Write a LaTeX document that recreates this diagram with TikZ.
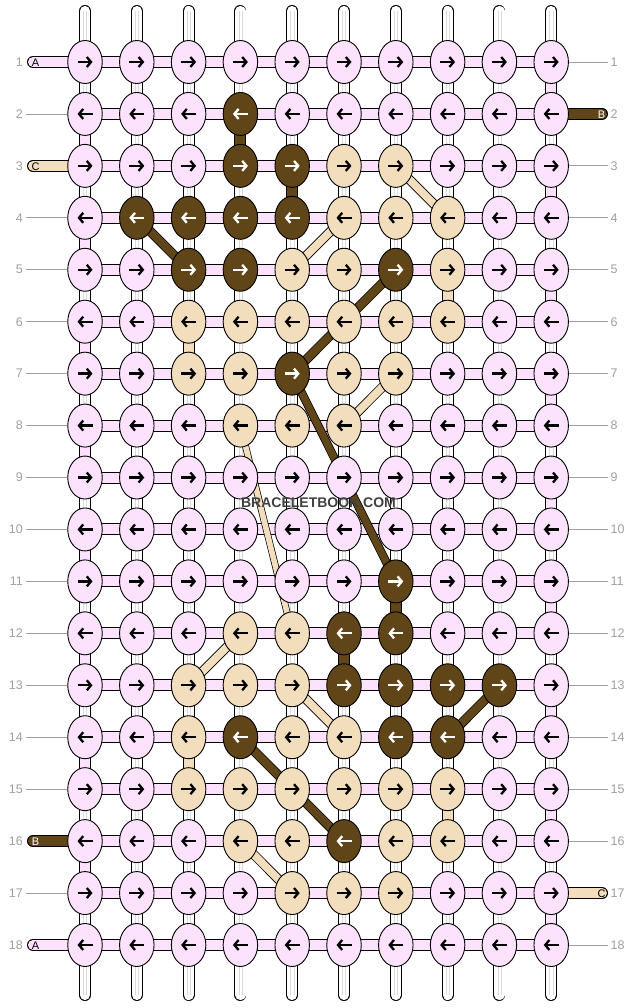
\documentclass[tikz,border=0pt]{standalone}
\usepackage{fontspec}
\setmainfont{Liberation Sans}
\usetikzlibrary{shapes.geometric,arrows.meta}
\definecolor{cA}{RGB}{252,226,252}
\definecolor{cB}{RGB}{96,69,24}
\definecolor{cC}{RGB}{242,221,189}
\colorlet{arrA}{black}
\colorlet{arrB}{white}
\colorlet{arrC}{black}
\definecolor{lbl}{RGB}{160,160,160}
\definecolor{wm}{RGB}{64,64,64}
\pgfdeclarelayer{bg}
\pgfdeclarelayer{warp}
\pgfdeclarelayer{bands}
\pgfdeclarelayer{strings}
\pgfdeclarelayer{top}
\pgfsetlayers{bg,warp,bands,strings,main,top}
\begin{document}
\begin{tikzpicture}[x=1pt,y=-1pt,
  knot/.style={ellipse, draw=black, line width=0.9pt, minimum width=34.5pt, minimum height=43pt, inner sep=0pt},
  numlbl/.style={text=lbl, font=\fontsize{12.5}{13}\selectfont, inner sep=2.5pt},
  endlbl/.style={font=\fontsize{11}{11}\selectfont, inner sep=0pt},
  arw/.style={line width=2.3pt, -{Straight Barb[length=4.2pt,width=10pt]}}]
\useasboundingbox (0,0) rectangle (636,1008);
% knots
\foreach \r/\row in {
1/{A,A,A,A,A,A,A,A,A,A},
2/{A,A,A,B,A,A,A,A,A,A},
3/{A,A,A,B,B,C,C,A,A,A},
4/{A,B,B,B,B,C,C,C,A,A},
5/{A,A,B,B,C,C,B,C,A,A},
6/{A,A,C,C,C,C,C,C,A,A},
7/{A,A,C,C,B,C,C,A,A,A},
8/{A,A,A,C,C,C,A,A,A,A},
9/{A,A,A,A,A,A,A,A,A,A},
10/{A,A,A,A,A,A,A,A,A,A},
11/{A,A,A,A,A,A,B,A,A,A},
12/{A,A,A,C,C,B,B,A,A,A},
13/{A,A,C,C,C,B,B,B,B,A},
14/{A,A,C,B,C,C,B,B,A,A},
15/{A,A,C,C,C,C,C,C,A,A},
16/{A,A,A,C,C,B,C,C,A,A},
17/{A,A,A,A,C,C,C,A,A,A},
18/{A,A,A,A,A,A,A,A,A,A}}{
  \foreach \k [count=\c] in \row {
    \node[knot, fill=c\k] (k-\r-\c) at ({85+(\c-1)*51.8},{62+(\r-1)*51.94}) {};
    \ifodd\r\relax \def\sa{-7.5}\def\sb{7.5}\else\def\sa{7.5}\def\sb{-7.5}\fi
    \draw[arw, draw=arr\k] ([xshift=\sa pt]k-\r-\c.center) -- ([xshift=\sb pt]k-\r-\c.center);
  }
}
\begin{pgfonlayer}{bg}
\fill[white] (0,0) rectangle (636,1008);
\end{pgfonlayer}
% warp strings
\begin{pgfonlayer}{warp}
\foreach \c in {1,...,10}{
  \coordinate (wt-\c) at ({85+(\c-1)*51.8},11);
  \coordinate (wb-\c) at ({85+(\c-1)*51.8},995);
  \draw[black, line width=12pt, line cap=round] (wt-\c) -- (wb-\c);
  \draw[white, line width=10.2pt, line cap=round] (wt-\c) -- (wb-\c);
  \draw[black!14, line width=0.5pt] ([xshift=-1.6pt]wt-\c) -- ([xshift=-1.6pt]wb-\c);
  \draw[black!14, line width=0.5pt] ([xshift=1.6pt]wt-\c) -- ([xshift=1.6pt]wb-\c);
}
\end{pgfonlayer}
% horizontal bands, end tubes, labels
\begin{pgfonlayer}{bands}
\foreach \r in {1,...,18}{
  \draw[black, line width=12pt] (k-\r-1.center) -- (k-\r-10.center);
  \draw[cA, line width=10pt] (k-\r-1.center) -- (k-\r-10.center);
  \node[numlbl, anchor=east] (nl-\r) at (25.5,{62+(\r-1)*51.94}) {\r};
  \node[numlbl, anchor=west] (nr-\r) at (608,{62+(\r-1)*51.94}) {\r};
}
\foreach \r in {2,4,5,6,7,8,9,10,11,12,13,14,15,17}{
  \draw[lbl, line width=0.8pt] (nl-\r.east) -- (k-\r-1.west);
}
\foreach \r in {1,3,4,5,6,7,8,9,10,11,12,13,14,15,16,18}{
  \draw[lbl, line width=0.8pt] (k-\r-10.east) -- (nr-\r.west);
}
\foreach \r/\k/\lc in {1/A/black,3/C/black,16/B/white,18/A/black}{
  \coordinate (eL-\r) at (33,{62+(\r-1)*51.94});
  \draw[black, line width=12pt, line cap=round] (eL-\r) -- (k-\r-1.center);
  \draw[c\k, line width=10pt, line cap=round] (eL-\r) -- (k-\r-1.center);
  \node[endlbl, text=\lc] (tl-\r) at (35.5,{62.5+(\r-1)*51.94}) {\k};
}
\foreach \r/\k/\lc in {2/B/white,17/C/black}{
  \coordinate (eR-\r) at (602,{62+(\r-1)*51.94});
  \draw[black, line width=12pt, line cap=round] (eR-\r) -- (k-\r-10.center);
  \draw[c\k, line width=10pt, line cap=round] (eR-\r) -- (k-\r-10.center);
  \node[endlbl, text=\lc] (tr-\r) at (601.5,{62.5+(\r-1)*51.94}) {\k};
}
\end{pgfonlayer}
% coloured vertical segments and diagonal strands
\begin{pgfonlayer}{strings}
\foreach \a/\b/\k in {2-4/3-4/B,3-5/4-5/B,11-7/12-7/B,12-6/13-6/B,
  5-8/6-8/C,6-3/7-3/C,14-3/15-3/C,15-8/16-8/C,
  1-10/2-10/A,3-10/4-10/A,5-10/6-10/A,7-10/8-10/A,9-10/10-10/A,11-10/12-10/A,13-10/14-10/A,15-10/16-10/A,17-10/18-10/A,
  2-1/3-1/A,4-1/5-1/A,6-1/7-1/A,8-1/9-1/A,10-1/11-1/A,12-1/13-1/A,14-1/15-1/A,16-1/17-1/A}{
  \draw[black, line width=12pt] (k-\a.center) -- (k-\b.center);
  \draw[c\k, line width=10pt] (k-\a.center) -- (k-\b.center);
}
\foreach \a/\b/\k/\wo/\wi in {4-2/5-3/B/9.5/8, 5-7/7-5/B/9.5/8, 7-5/11-7/B/8.5/7, 14-8/13-9/B/9.5/8, 14-4/16-6/B/9.5/8,
  3-7/4-8/C/9.5/7.8, 4-6/5-5/C/9.5/7.8, 7-7/8-6/C/9.5/7.8, 8-4/12-5/C/7/5.6, 12-4/13-3/C/9.5/7.8, 13-5/14-6/C/9.5/7.8, 16-4/17-5/C/9.5/7.8}{
  \draw[black, line width=\wo pt] (k-\a.center) -- (k-\b.center);
  \draw[c\k, line width=\wi pt] (k-\a.center) -- (k-\b.center);
}
\end{pgfonlayer}
\begin{pgfonlayer}{top}
\node[text=wm, font=\bfseries\fontsize{14}{14}\selectfont, inner sep=0pt] (mark) at (318.5,503) {BRACELETBOOK.COM};
\end{pgfonlayer}
\end{tikzpicture}
\end{document}
